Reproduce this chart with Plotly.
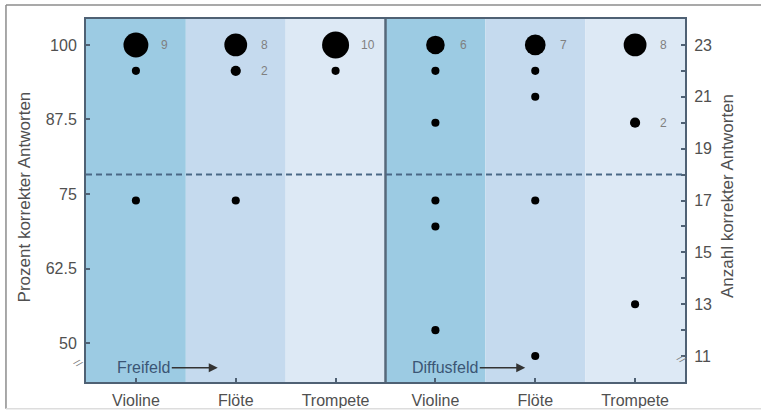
import plotly.graph_objects as go

# ---- data ----
instruments = ["Violine", "Flöte", "Trompete", "Violine", "Flöte", "Trompete"]
conditions = ["Freifeld", "Diffusfeld"]
group_pos = [0, 1, 2, 3, 4, 5]
scores = [
    [23, 22, 17],
    [23, 22, 17],
    [23, 22],
    [23, 22, 20, 17, 16, 12],
    [23, 22, 21, 17, 11],
    [23, 20, 13],
]
freqs = [
    [9, 1, 1],
    [8, 2, 1],
    [10, 1],
    [6, 1, 1, 1, 1, 1],
    [7, 1, 1, 1, 1],
    [8, 2, 1],
]
n_items = 23
threshold_count = 18
pct_ticks = [50, 62.5, 75, 87.5, 100]
count_ticks = list(range(11, 24))

# ---- style ----
band_colors = ["#9ccbe3", "#c5daee", "#dde9f5"]
axis_col = "#4f6174"
FONT = "Liberation Sans, Arial, sans-serif"
tick_font = dict(family=FONT, size=16, color="#505050")

y2_range = [10, 24]
y1_range = [v * 100 / n_items for v in y2_range]

fig = go.Figure()

xs, ys, sizes = [], [], []
for p, sc, fr in zip(group_pos, scores, freqs):
    for s, f in zip(sc, fr):
        xs.append(p)
        ys.append(s)
        sizes.append(6 + 2.1 * f)

fig.add_trace(go.Scatter(x=xs, y=ys, mode="markers", yaxis="y2",
                         marker=dict(size=sizes, color="#000000", opacity=1,
                                     line=dict(width=0)),
                         hoverinfo="skip", showlegend=False))
# invisible trace for the percent axis
fig.add_trace(go.Scatter(x=[0], y=[100], mode="markers", yaxis="y",
                         marker=dict(opacity=0), hoverinfo="skip", showlegend=False))

shapes = []
for p in group_pos:
    shapes.append(dict(type="rect", xref="x", yref="paper", x0=p - 0.5, x1=p + 0.5,
                       y0=0, y1=1, fillcolor=band_colors[p % 3], line=dict(width=0),
                       layer="below"))
# divider between conditions
shapes.append(dict(type="line", xref="x", yref="paper", x0=2.5, x1=2.5, y0=0, y1=1,
                   line=dict(color="#56687a", width=2.5)))
# threshold dashed line
shapes.append(dict(type="line", xref="paper", yref="y2", x0=0, x1=1,
                   y0=threshold_count, y1=threshold_count,
                   line=dict(color="#4a6885", width=2, dash="6px,4px")))
# outer frame
shapes.append(dict(type="line", xref="paper", yref="paper", x0=-0.1336, x1=1.14,
                   y0=1.0386, y1=1.0386, line=dict(color="#8c8c8c", width=1.5)))
shapes.append(dict(type="line", xref="paper", yref="paper", x0=-0.1336, x1=-0.1336,
                   y0=-0.074, y1=1.0386, line=dict(color="#8c8c8c", width=1.5)))
shapes.append(dict(type="line", xref="paper", yref="paper", x0=-0.1336, x1=1.14,
                   y0=-0.074, y1=-0.074, line=dict(color="#dddddd", width=1.5)))

annotations = []
for p, sc, fr in zip(group_pos, scores, freqs):
    for s, f in zip(sc, fr):
        if f > 1:
            annotations.append(dict(x=p, y=s, xref="x", yref="y2", text=str(f),
                                    xanchor="left", xshift=23, showarrow=False,
                                    font=dict(family=FONT, size=12, color="#808080")))

annotations.append(dict(x=0.82, y=10.55, xref="x", yref="y2", text=conditions[0],
                        showarrow=True, ax=-74, ay=0, arrowhead=2, arrowsize=1.2,
                        arrowwidth=1.5, arrowcolor="#333333",
                        font=dict(family=FONT, size=16, color="#3b5675")))
annotations.append(dict(x=3.90, y=10.55, xref="x", yref="y2", text=conditions[1],
                        showarrow=True, ax=-80, ay=0, arrowhead=2, arrowsize=1.2,
                        arrowwidth=1.5, arrowcolor="#333333",
                        font=dict(family=FONT, size=16, color="#3b5675")))
# axis titles
annotations.append(dict(x=-0.102, y=0.511, xref="paper", yref="paper",
                        xanchor="center", yanchor="middle",
                        text="Prozent korrekter Antworten", textangle=-90, showarrow=False,
                        font=dict(family=FONT, size=17, color="#505050")))
annotations.append(dict(x=1.071, y=0.511, xref="paper", yref="paper",
                        xanchor="center", yanchor="middle",
                        text="Anzahl korrekter Antworten", textangle=-90, showarrow=False,
                        font=dict(family=FONT, size=17, color="#505050")))
# axis break marks
annotations.append(dict(x=-0.012, y=10.75, xref="paper", yref="y2", text="//", showarrow=False,
                        xanchor="center", textangle=40, font=dict(size=10, color="#777777")))
annotations.append(dict(x=0.995, y=10.9, xref="paper", yref="y2", text="//", showarrow=False,
                        xanchor="center", textangle=40, font=dict(size=10, color="#777777")))

fig.update_layout(
    width=761, height=411,
    margin=dict(l=86, r=76, t=19, b=29, autoexpand=False),
    paper_bgcolor="white", plot_bgcolor="white",
    shapes=shapes, annotations=annotations,
    xaxis=dict(range=[-0.5, 5.5], tickvals=group_pos, ticktext=instruments,
               ticks="inside", ticklen=4, tickcolor=axis_col, tickwidth=1.5,
               showline=True, linecolor=axis_col, linewidth=2, mirror=True,
               showgrid=False, zeroline=False, tickfont=tick_font, ticklabelstandoff=3),
    yaxis=dict(range=y1_range, tickvals=pct_ticks, ticktext=[f"{v:g}" for v in pct_ticks],
               ticks="inside", ticklen=4, tickcolor=axis_col, tickwidth=1.5,
               showline=True, linecolor=axis_col, linewidth=2,
               showgrid=False, zeroline=False, tickfont=tick_font, ticklabelstandoff=4),
    yaxis2=dict(range=y2_range, overlaying="y", side="right", tickvals=count_ticks,
                ticktext=[str(v) if v % 2 == 1 else "" for v in count_ticks],
                ticks="inside", ticklen=4, tickcolor=axis_col, tickwidth=1.5,
                showline=True, linecolor=axis_col, linewidth=2,
                showgrid=False, zeroline=False, tickfont=tick_font, ticklabelstandoff=4),
)

fig.write_html("out.html")
